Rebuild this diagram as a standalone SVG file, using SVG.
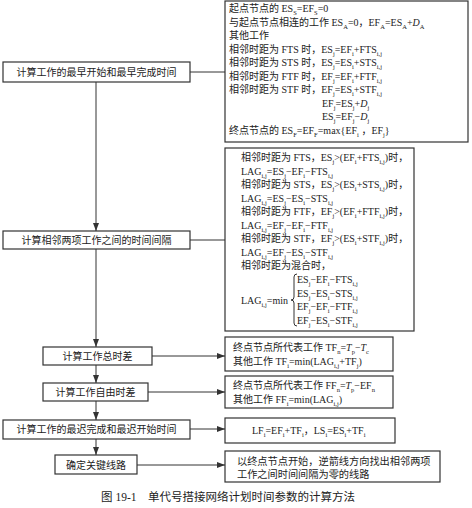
<svg xmlns="http://www.w3.org/2000/svg" width="472" height="508" viewBox="0 0 472 508">
<style>
text{font-family:"Liberation Serif","Noto Sans CJK SC",serif;font-size:10px;fill:#222}
.c{text-anchor:middle}
.s{font-size:6.5px;baseline-shift:-2.5px}
.i{font-style:italic}
.box{fill:#fff;stroke:#333;stroke-width:1.2}
.ln{fill:none;stroke:#333;stroke-width:1}
.cap{font-size:11.5px}
.b6{font-size:10.2px}
</style>
<defs>
<marker id="ah" markerWidth="8" markerHeight="6" refX="8" refY="3" orient="auto" markerUnits="userSpaceOnUse">
<path d="M0,0 L8,3 L0,6 Z" fill="#333"/>
</marker>
</defs>
<rect width="472" height="508" fill="#fff"/>

<g id="connectors">
<line class="ln" x1="190" y1="72" x2="225" y2="72"/>
<line class="ln" x1="190" y1="240" x2="225" y2="240"/>
<line class="ln" x1="152" y1="356" x2="225" y2="356" marker-end="url(#ah)"/>
<line class="ln" x1="148" y1="392" x2="225" y2="392" marker-end="url(#ah)"/>
<line class="ln" x1="190" y1="429" x2="225" y2="429" marker-end="url(#ah)"/>
<line class="ln" x1="137" y1="465" x2="225" y2="465" marker-end="url(#ah)"/>
<line class="ln" x1="96" y1="82" x2="96" y2="231" marker-end="url(#ah)"/>
<line class="ln" x1="96" y1="249" x2="96" y2="347" marker-end="url(#ah)"/>
<line class="ln" x1="96" y1="365" x2="96" y2="383" marker-end="url(#ah)"/>
<line class="ln" x1="96" y1="401" x2="96" y2="420" marker-end="url(#ah)"/>
<line class="ln" x1="96" y1="439" x2="96" y2="455" marker-end="url(#ah)"/>
</g>

<g id="step1">
<rect class="box" x="3" y="62" width="187" height="20"/>
<text class="c" x="96.5" y="75.5">计算工作的最早开始和最早完成时间</text>
</g>
<g id="step2">
<rect class="box" x="3" y="231" width="187" height="18"/>
<text class="c" x="96.5" y="243.5">计算相邻两项工作之间的时间间隔</text>
</g>
<g id="step3">
<rect class="box" x="43" y="347" width="109" height="18"/>
<text class="c" x="97.5" y="359.5">计算工作总时差</text>
</g>
<g id="step4">
<rect class="box" x="43" y="383" width="105" height="18"/>
<text class="c" x="95.5" y="395.5">计算工作自由时差</text>
</g>
<g id="step5">
<rect class="box" x="3" y="420" width="187" height="19"/>
<text class="c" x="96.5" y="433">计算工作的最迟完成和最迟开始时间</text>
</g>
<g id="step6">
<rect class="box" x="55" y="455" width="82" height="19"/>
<text class="c" x="96" y="468.5">确定关键线路</text>
</g>

<g id="formula1">
<rect class="box" x="225" y="1" width="243" height="141"/>
<text x="229" y="12">起点节点的 ES<tspan class="s">S</tspan>=EF<tspan class="s">S</tspan>=0</text>
<text x="229" y="25.5">与起点节点相连的工作 ES<tspan class="s">A</tspan>=0，EF<tspan class="s">A</tspan>=ES<tspan class="s">A</tspan>+<tspan class="i">D</tspan><tspan class="s">A</tspan></text>
<text x="229" y="39">其他工作</text>
<text x="229" y="52.5">相邻时距为 FTS 时，ES<tspan class="s">j</tspan>=EF<tspan class="s">i</tspan>+FTS<tspan class="s">i,j</tspan></text>
<text x="229" y="66">相邻时距为 STS 时，ES<tspan class="s">j</tspan>=ES<tspan class="s">i</tspan>+STS<tspan class="s">i,j</tspan></text>
<text x="229" y="79.5">相邻时距为 FTF 时，EF<tspan class="s">j</tspan>=EF<tspan class="s">i</tspan>+FTF<tspan class="s">i,j</tspan></text>
<text x="229" y="93">相邻时距为 STF 时，EF<tspan class="s">j</tspan>=ES<tspan class="s">i</tspan>+STF<tspan class="s">i,j</tspan></text>
<text x="322" y="106.5">EF<tspan class="s">j</tspan>=ES<tspan class="s">j</tspan>+<tspan class="i">D</tspan><tspan class="s">j</tspan></text>
<text x="322" y="120">ES<tspan class="s">j</tspan>=EF<tspan class="s">j</tspan>−<tspan class="i">D</tspan><tspan class="s">j</tspan></text>
<text x="229" y="133.5">终点节点的 ES<tspan class="s">F</tspan>=EF<tspan class="s">F</tspan>=max{EF<tspan class="s">i</tspan> ，EF<tspan class="s">j</tspan>}</text>
</g>

<g id="formula2">
<rect class="box" x="225" y="148" width="189" height="183"/>
<text x="241" y="161">相邻时距为 FTS，ES<tspan class="s">j</tspan>&gt;(EF<tspan class="s">i</tspan>+FTS<tspan class="s">i,j</tspan>)时，</text>
<text x="241" y="174.5">LAG<tspan class="s">i,j</tspan>=ES<tspan class="s">j</tspan>−EF<tspan class="s">i</tspan>−FTS<tspan class="s">i,j</tspan></text>
<text x="241" y="188">相邻时距为 STS，ES<tspan class="s">j</tspan>&gt;(ES<tspan class="s">i</tspan>+STS<tspan class="s">i,j</tspan>)时，</text>
<text x="241" y="201.5">LAG<tspan class="s">i,j</tspan>=ES<tspan class="s">j</tspan>−ES<tspan class="s">i</tspan>−STS<tspan class="s">i,j</tspan></text>
<text x="241" y="215">相邻时距为 FTF，EF<tspan class="s">j</tspan>&gt;(EF<tspan class="s">i</tspan>+FTF<tspan class="s">i,j</tspan>)时，</text>
<text x="241" y="228.5">LAG<tspan class="s">i,j</tspan>=EF<tspan class="s">j</tspan>−EF<tspan class="s">i</tspan>−FTF<tspan class="s">i,j</tspan></text>
<text x="241" y="242">相邻时距为 STF，EF<tspan class="s">j</tspan>&gt;(ES<tspan class="s">i</tspan>+STF<tspan class="s">i,j</tspan>)时，</text>
<text x="241" y="255.5">LAG<tspan class="s">i,j</tspan>=EF<tspan class="s">j</tspan>−ES<tspan class="s">i</tspan>−STF<tspan class="s">i,j</tspan></text>
<text x="241" y="269">相邻时距为混合时，</text>
<text x="241" y="304">LAG<tspan class="s">i,j</tspan>=min</text>
<path class="ln" d="M297,274 q-3,0 -3,3 v20 q0,3 -3,3 q3,0 3,3 v20 q0,3 3,3"/>
<text x="297" y="283">ES<tspan class="s">j</tspan>−EF<tspan class="s">i</tspan>−FTS<tspan class="s">i,j</tspan></text>
<text x="297" y="296.5">ES<tspan class="s">j</tspan>−ES<tspan class="s">i</tspan>−STS<tspan class="s">i,j</tspan></text>
<text x="297" y="310">EF<tspan class="s">j</tspan>−EF<tspan class="s">i</tspan>−FTF<tspan class="s">i,j</tspan></text>
<text x="297" y="323.5">EF<tspan class="s">j</tspan>−ES<tspan class="s">i</tspan>−STF<tspan class="s">i,j</tspan></text>
</g>

<g id="formula3">
<rect class="box" x="225" y="337" width="168" height="34"/>
<text x="233" y="351">终点节点所代表工作 TF<tspan class="s">n</tspan>=<tspan class="i">T</tspan><tspan class="s">p</tspan>−<tspan class="i">T</tspan><tspan class="s">c</tspan></text>
<text x="233" y="364.5">其他工作 TF<tspan class="s">i</tspan>=min(LAG<tspan class="s">i,j</tspan>+TF<tspan class="s">j</tspan>)</text>
</g>
<g id="formula4">
<rect class="box" x="225" y="376" width="168" height="32"/>
<text x="233" y="389">终点节点所代表工作 FF<tspan class="s">n</tspan>=<tspan class="i">T</tspan><tspan class="s">p</tspan>−EF<tspan class="s">n</tspan></text>
<text x="233" y="402.5">其他工作 FF<tspan class="s">i</tspan>=min(LAG<tspan class="s">i,j</tspan>)</text>
</g>
<g id="formula5">
<rect class="box" x="225" y="418" width="170" height="25"/>
<text x="252" y="434">LF<tspan class="s">i</tspan>=EF<tspan class="s">i</tspan>+TF<tspan class="s">i</tspan>，LS<tspan class="s">i</tspan>=ES<tspan class="s">i</tspan>+TF<tspan class="s">i</tspan></text>
</g>
<g id="formula6">
<rect class="box" x="225" y="451" width="215" height="31"/>
<text class="b6" x="237" y="464.5">以终点节点开始，逆箭线方向找出相邻两项</text>
<text class="b6" x="237" y="478">工作之间时间间隔为零的线路</text>
</g>

<text class="c cap" x="228" y="501">图 19-1　单代号搭接网络计划时间参数的计算方法</text>
</svg>
